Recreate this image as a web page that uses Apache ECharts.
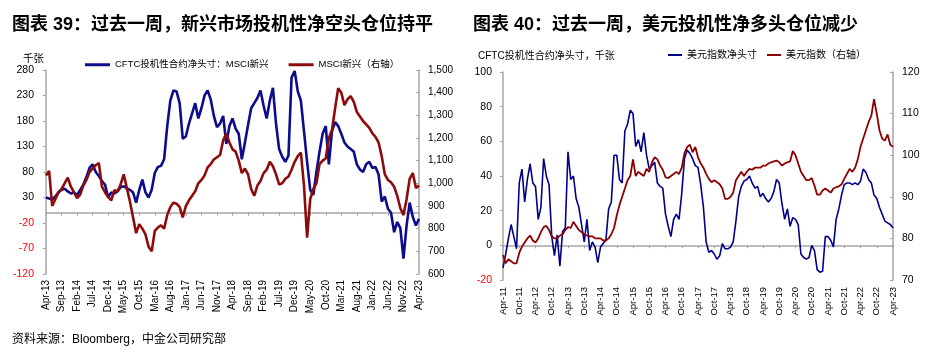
<!DOCTYPE html>
<html>
<head>
<meta charset="utf-8">
<script src="https://cdn.jsdelivr.net/npm/echarts@6/dist/echarts.min.js"></script>
<style>
html,body{margin:0;padding:0;background:#fff;}
#c{width:936px;height:355px;}
</style>
</head>
<body>
<div id="c"></div>
<script>
// ---------- DATA ----------
// Left chart: monthly, Apr-13 .. Apr-23
const leftStart = [2013, 3]; // year, month index (Apr)
const leftCount = 121;
const leftTickLabels = ['Apr-13','Sep-13','Feb-14','Jul-14','Dec-14','May-15','Oct-15','Mar-16','Aug-16','Jan-17','Jun-17','Nov-17','Apr-18','Sep-18','Feb-19','Jul-19','Dec-19','May-20','Oct-20','Mar-21','Aug-21','Jan-22','Jun-22','Nov-22','Apr-23'];
const leftBlue = [30,28,26,32,40,45,47,42,38,40, 35,45,55,70,88,95,80,72,62,55, 30,40,38,42,50,52,48,45,40,20, 45,65,40,30,45,78,90,92,105,170, 220,240,238,215,145,150,175,195,215,185, 205,230,240,222,190,168,175,190,135,170, 185,165,155,105,138,172,205,215,225,240, 210,185,220,245,175,125,110,100,112,265, 278,238,220,160,100,45,35,80,120,155, 170,95,160,178,170,155,138,130,125,120, 95,85,80,95,100,88,90,75,22,32, 8,0,-38,-18,-30,-90,-25,20,-8,-25, -12];
const leftRed = [1035,1055,900,930,960,975,1000,1025,985,960, 935,950,990,1015,1050,1065,1080,1090,985,960, 940,925,970,965,995,1040,980,920,850,780, 820,800,775,720,700,790,805,815,800,860, 895,915,910,895,850,900,925,945,965,1000, 1015,1035,1070,1085,1105,1115,1125,1190,1220,1180, 1150,1140,1100,1045,1065,1040,975,945,990,1010, 1045,1060,1095,1075,1040,995,1000,1020,1030,1060, 1095,1120,1135,990,760,930,975,1000,1085,1100, 1110,1200,1235,1330,1420,1400,1345,1370,1385,1360, 1315,1295,1275,1260,1245,1220,1205,1180,1120,1040, 1015,1005,985,945,890,860,930,1020,1045,980, 990];

// Right chart: monthly, Apr-11 .. Apr-23
const rightStart = [2011, 3];
const rightCount = 145;
const rightTickLabels = ['Apr-11','Oct-11','Apr-12','Oct-12','Apr-13','Oct-13','Apr-14','Oct-14','Apr-15','Oct-15','Apr-16','Oct-16','Apr-17','Oct-17','Apr-18','Oct-18','Apr-19','Oct-19','Apr-20','Oct-20','Apr-21','Oct-21','Apr-22','Oct-22','Apr-23'];
const rightBlue = [-13,-5,4,12,5,-2,36,44,25,38, 47,36,34,15,22,50,40,35,5,-6, 6,-12,8,10,54,38,40,27,22,12, 2,15,-3,2,-1,-10,-1,1,3,21, 25,52,52,38,36,66,70,78,76,57, 61,54,65,52,44,46,48,36,34,33, 18,11,5,15,18,15,30,50,55,53, 50,46,45,35,22,2,-4,-3,-5,-8, -6,1,-2,-2,-1,2,14,28,34,37, 38,40,36,33,34,28,30,27,25,27, 31,38,36,24,15,21,11,16,15,12, -5,-7,-8,-7,0,-3,-14,-15.5,-15,5, 5,3,-1,15,21,29,35,36,36,35, 36,35,37,44,42,38,36,29,27,22, 18,14,13,12,10];
const rightRed = [76,74,75,74.5,74,74,76.5,78,79,80, 80.7,79.5,79,80,81.5,82.7,83,82,80.5,80, 80,80.7,81,82,82.7,82.5,84,83,82,81.5, 81,80.7,80.5,80.5,80,80,80,79.5,79.5,80, 81,82.5,85.5,88,90,92,94,95,99,95, 96,95.5,95,96.7,96,98.3,99.5,99,97.5,96.5, 94.7,94.5,95,95.5,96,95.5,97,100.5,102,102.5, 100.7,102,99.5,98,97,95.5,94.3,93.5,94,93.5, 93,92,89.5,89.5,90,91,94,95,96,95, 96,96.7,96.5,97,97,97,97.5,97.5,98,98.3, 98.5,98.7,98.3,97.5,98,98.3,98.5,101,100,98, 96,95,94,94,94.5,92.7,90.5,90.5,91.5,92, 91.5,91,92,92.3,92.5,93,94.3,95.5,96.7,96, 97,99,102,104,106,108,109.5,113.5,110,106, 104,103.5,105,102.5,102];

// ---------- BUILD ----------
const MON = ['Jan','Feb','Mar','Apr','May','Jun','Jul','Aug','Sep','Oct','Nov','Dec'];
function monthCats(start, count) {
  const out = [];
  let y = start[0], m = start[1];
  for (let i = 0; i < count; i++) {
    out.push(MON[m] + '-' + String(y % 100).padStart(2, '0'));
    m++; if (m > 11) { m = 0; y++; }
  }
  return out;
}
const leftCats = monthCats(leftStart, leftCount);
const rightCats = monthCats(rightStart, rightCount);

const FONT = '"Liberation Sans", "Noto Sans CJK SC", sans-serif';
const AX = '#a6a6a6';
const BLUE = '#0c0c8c';
const RED = '#8c0c0c';

function xLabelAxis(grid, cats, ticks, fs, margin) {
  return {
    gridIndex: grid, type: 'category', data: cats, boundaryGap: false, position: 'bottom',
    axisLine: { show: false, onZero: false }, axisTick: { show: false },
    axisLabel: { interval: 0, rotate: 90, fontSize: fs, color: '#000', margin: margin, fontFamily: FONT,
      formatter: v => ticks.indexOf(v) >= 0 ? v : '' },
    splitLine: { show: false }
  };
}
function xZeroAxis(grid, cats, yIdx, interval) {
  return {
    gridIndex: grid, type: 'category', data: cats, boundaryGap: false, position: 'bottom',
    axisLine: { show: true, onZero: true, onZeroAxisIndex: yIdx, lineStyle: { color: AX, width: 1.5 } },
    axisTick: { show: true, interval: interval, length: 3, lineStyle: { color: AX } },
    axisLabel: { show: false }, splitLine: { show: false }
  };
}
function yAxisDef(grid, pos, min, max, interval, opts) {
  return Object.assign({
    gridIndex: grid, type: 'value', position: pos, min: min, max: max, interval: interval,
    axisLine: { show: true, lineStyle: { color: AX, width: 1.5 } },
    axisTick: { show: true, length: 3, inside: pos === 'right', lineStyle: { color: AX } },
    splitLine: { show: false }
  }, opts);
}

const option = {
  animation: false,
  backgroundColor: '#fff',
  textStyle: { fontFamily: FONT },
  graphic: [
    { type: 'text', x: 12, y: 25, style: { text: '图表 39：过去一周，新兴市场投机性净空头仓位持平', font: 'bold 18px ' + FONT, fill: '#000', verticalAlign: 'middle' } },
    { type: 'text', x: 473, y: 25, style: { text: '图表 40：过去一周，美元投机性净多头仓位减少', font: 'bold 18px ' + FONT, fill: '#000', verticalAlign: 'middle' } },
    { type: 'text', x: 23, y: 59, style: { text: '千张', font: '10.5px ' + FONT, fill: '#000', verticalAlign: 'middle' } },
    { type: 'text', x: 478, y: 56, style: { text: 'CFTC投机性合约净头寸，千张', font: '10px ' + FONT, fill: '#000', verticalAlign: 'middle' } },
    { type: 'text', x: 12, y: 340, style: { text: '资料来源：Bloomberg，中金公司研究部', font: '12px ' + FONT, fill: '#000', verticalAlign: 'middle' } }
  ],
  legend: [
    { left: 85, top: 60, padding: 0, icon: 'rect', itemWidth: 25, itemHeight: 3, itemGap: 20,
      data: ['CFTC投机性合约净头寸：MSCI新兴', 'MSCI新兴（右轴）'],
      textStyle: { fontSize: 9.5, color: '#000', fontFamily: FONT } },
    { left: 668, top: 50, padding: 0, icon: 'rect', itemWidth: 14, itemHeight: 2, itemGap: 10,
      data: ['美元指数净头寸', '美元指数（右轴）'],
      textStyle: { fontSize: 10, color: '#000', fontFamily: FONT } }
  ],
  grid: [
    { left: 46, top: 70, width: 373, height: 204 },
    { left: 503, top: 72, width: 390, height: 208 }
  ],
  xAxis: [
    xLabelAxis(0, leftCats, leftTickLabels, 10, 6),
    xZeroAxis(0, leftCats, 0, 4),
    xLabelAxis(1, rightCats, rightTickLabels, 9.5, 7),
    xZeroAxis(1, rightCats, 2, 5)
  ],
  yAxis: [
    yAxisDef(0, 'left', -120, 280, 50, { axisLabel: { fontSize: 10.5, margin: 12, color: v => Number(v) < 0 ? '#ff0000' : '#000' } }),
    yAxisDef(0, 'right', 600, 1500, 100, { axisLabel: { fontSize: 10, margin: 9, color: '#000', formatter: v => Number(v).toLocaleString('en-US') } }),
    yAxisDef(1, 'left', -20, 100, 20, { axisLabel: { fontSize: 10.5, margin: 11, color: v => Number(v) < 0 ? '#ff0000' : '#000' } }),
    yAxisDef(1, 'right', 70, 120, 10, { axisLabel: { fontSize: 10.5, margin: 9, color: '#000' } })
  ],
  series: [
    { name: 'CFTC投机性合约净头寸：MSCI新兴', type: 'line', xAxisIndex: 0, yAxisIndex: 0, data: leftBlue, showSymbol: false, lineStyle: { color: BLUE, width: 2.6 }, itemStyle: { color: BLUE } },
    { name: 'MSCI新兴（右轴）', type: 'line', xAxisIndex: 0, yAxisIndex: 1, data: leftRed, showSymbol: false, lineStyle: { color: RED, width: 2.6 }, itemStyle: { color: RED } },
    { name: '美元指数净头寸', type: 'line', xAxisIndex: 2, yAxisIndex: 2, data: rightBlue, showSymbol: false, lineStyle: { color: '#00008b', width: 1.6 }, itemStyle: { color: '#00008b' } },
    { name: '美元指数（右轴）', type: 'line', xAxisIndex: 2, yAxisIndex: 3, data: rightRed, showSymbol: false, lineStyle: { color: '#8b0000', width: 1.8 }, itemStyle: { color: '#8b0000' } }
  ]
};

const chart = echarts.init(document.getElementById('c'), null, { renderer: 'canvas' });
chart.setOption(option);
</script>
</body>
</html>
